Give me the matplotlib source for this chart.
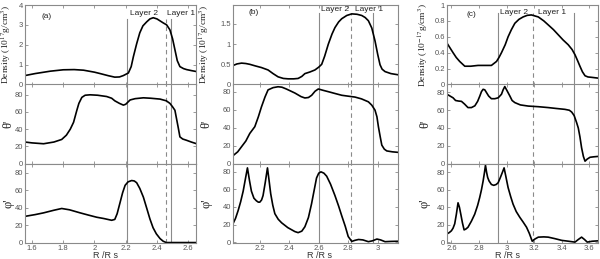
import numpy as np
import matplotlib
matplotlib.use("Agg")
import matplotlib.pyplot as plt
import matplotlib.transforms as mtransforms

plt.rcParams['mathtext.fontset'] = 'stix'
plt.rcParams['font.family'] = ['Liberation Sans', 'DejaVu Sans']

# ---- panel (a) ----
xa_den = [1.555, 1.62, 1.717, 1.80, 1.87, 1.93, 2.0, 2.036, 2.09, 2.13, 2.16, 2.185, 2.217, 2.235,
          2.249, 2.27, 2.29, 2.31, 2.334, 2.355, 2.376, 2.40, 2.42, 2.44, 2.462, 2.483, 2.50, 2.515,
          2.53, 2.547, 2.57, 2.59, 2.62, 2.654]
den_a = [0.45, 0.55, 0.67, 0.74, 0.75, 0.72, 0.62, 0.55, 0.44, 0.37, 0.38, 0.45, 0.58, 0.9,
         1.4, 2.05, 2.6, 2.95, 3.15, 3.3, 3.36, 3.3, 3.2, 3.1, 3.0, 2.75, 2.3, 1.75,
         1.2, 0.9, 0.8, 0.75, 0.7, 0.65]
xa_th = [1.555, 1.60, 1.674, 1.74, 1.79, 1.82, 1.845, 1.866, 1.887, 1.90, 1.919, 1.94, 1.972, 2.02,
         2.078, 2.11, 2.13, 2.16, 2.185, 2.20, 2.228, 2.26, 2.313, 2.36, 2.42, 2.46, 2.483, 2.50,
         2.515, 2.536, 2.547, 2.565, 2.59, 2.62, 2.654]
th_a = [25, 24, 23, 25, 28, 33, 40, 48, 62, 70, 77, 79.5, 80, 79.5,
        78, 76, 73, 70, 68, 69, 74, 75.5, 76.5, 76, 75, 73, 70, 66,
        62, 42, 31, 28.5, 27, 25, 23]
xa_ph = [1.555, 1.62, 1.674, 1.74, 1.79, 1.84, 1.908, 1.96, 2.014, 2.06, 2.11, 2.13, 2.145, 2.164,
         2.18, 2.196, 2.215, 2.238, 2.255, 2.27, 2.29, 2.313, 2.335, 2.355, 2.375, 2.396, 2.42,
         2.44, 2.46, 2.50, 2.55, 2.60, 2.654]
ph_a = [30, 32, 34, 37, 39, 37.5, 34, 31.5, 29, 27.5, 25.5, 26.5, 33, 46,
        57, 65.5, 69.5, 71, 70.5, 68.5, 62, 52, 39, 27, 17, 10, 4.5,
        1.5, 0, 0, 0, 0, 0]

# ---- panel (b) ----
xb_den = [2.018, 2.045, 2.076, 2.105, 2.132, 2.17, 2.211, 2.256, 2.29, 2.324, 2.36, 2.393, 2.43,
          2.46, 2.485, 2.506, 2.54, 2.574, 2.60, 2.62, 2.64, 2.665, 2.69, 2.71, 2.735, 2.756,
          2.79, 2.824, 2.86, 2.892, 2.915, 2.937, 2.96, 2.982, 3.0, 3.016, 3.03, 3.05, 3.09, 3.14]
den_b = [0.47, 0.51, 0.53, 0.52, 0.5, 0.46, 0.42, 0.36, 0.27, 0.19, 0.15, 0.14, 0.14,
         0.15, 0.2, 0.27, 0.31, 0.36, 0.43, 0.5, 0.7, 1.0, 1.25, 1.41, 1.55, 1.63,
         1.71, 1.75, 1.74, 1.71, 1.66, 1.58, 1.4, 1.08, 0.75, 0.49, 0.38, 0.32, 0.27, 0.24]
xb_th = [2.018, 2.05, 2.076, 2.105, 2.132, 2.166, 2.19, 2.211, 2.235, 2.256, 2.29, 2.324, 2.35,
         2.38, 2.438, 2.48, 2.506, 2.53, 2.552, 2.575, 2.597, 2.63, 2.665, 2.71, 2.756, 2.80,
         2.846, 2.89, 2.937, 2.96, 2.982, 2.995, 3.005, 3.017, 3.028, 3.045, 3.062, 3.10, 3.14]
th_b = [8.7, 13, 18.7, 25, 33.5, 41, 52, 63, 74, 82, 84.5, 85.5, 85,
        83, 78.5, 74.5, 73, 73.5, 76, 80.5, 83, 81.5, 80, 78, 76, 75,
        74, 72, 68.7, 65, 59.4, 52, 41, 30, 20.5, 16, 14, 13, 12.4]
xb_ph = [2.018, 2.035, 2.053, 2.07, 2.087, 2.10, 2.116, 2.13, 2.143, 2.16, 2.177, 2.19, 2.2,
         2.212, 2.222, 2.237, 2.252, 2.263, 2.274, 2.288, 2.302, 2.325, 2.348, 2.39, 2.438,
         2.46, 2.485, 2.506, 2.53, 2.551, 2.57, 2.585, 2.60, 2.615, 2.635, 2.654, 2.68, 2.71,
         2.735, 2.756, 2.78, 2.80, 2.824, 2.845, 2.87, 2.90, 2.937, 2.965, 2.995, 3.02, 3.05,
         3.09, 3.14]
ph_b = [21, 27, 36, 46, 58, 70, 84.5, 70, 58, 50, 47, 45.5, 45.5,
        48, 53, 68, 84.5, 70, 55, 42, 32.4, 26, 22, 16.5, 12,
        10.8, 12.5, 17.5, 28, 43.5, 60, 73, 78.5, 80, 78.5, 75, 66, 53,
        41, 30, 18, 6.4, 0.8, 2, 3, 2.5, 0.5, 1.5, 3.5, 2.5, 0.5,
        0.8, 1]

# ---- panel (c) ----
xc_den = [2.568, 2.59, 2.612, 2.635, 2.66, 2.697, 2.74, 2.793, 2.84, 2.89, 2.927, 2.945, 2.963,
          2.99, 3.011, 3.035, 3.06, 3.09, 3.12, 3.15, 3.18, 3.23, 3.27, 3.302, 3.34, 3.375,
          3.41, 3.447, 3.475, 3.496, 3.515, 3.532, 3.55, 3.569, 3.59, 3.617, 3.665]
den_c = [0.52, 0.46, 0.40, 0.34, 0.29, 0.23, 0.23, 0.24, 0.24, 0.24, 0.29, 0.34, 0.4,
         0.5, 0.6, 0.69, 0.77, 0.82, 0.85, 0.87, 0.875, 0.85, 0.80, 0.75, 0.69, 0.625,
         0.56, 0.5, 0.44, 0.375, 0.3, 0.23, 0.16, 0.11, 0.095, 0.09, 0.08]
xc_th = [2.568, 2.59, 2.612, 2.63, 2.65, 2.673, 2.695, 2.72, 2.745, 2.77, 2.79, 2.806, 2.818,
         2.83, 2.842, 2.854, 2.87, 2.89, 2.915, 2.939, 2.963, 2.975, 2.987, 3.0, 3.024, 3.04,
         3.06, 3.1, 3.157, 3.23, 3.302, 3.36, 3.423, 3.455, 3.472, 3.49, 3.508, 3.52, 3.532,
         3.544, 3.557, 3.569, 3.585, 3.605, 3.63, 3.665]
th_c = [78, 76, 74, 71, 70.4, 70, 67, 63, 63, 65, 70, 76, 81,
        83.6, 83, 80, 76, 73, 73, 74, 78, 83, 86.7, 83, 76, 71,
        68.6, 66, 64.7, 64, 63, 62, 61, 60, 58, 54, 46, 40, 30,
        17.7, 8, 2.6, 5, 7, 7.5, 8]
xc_ph = [2.568, 2.585, 2.6, 2.612, 2.624, 2.636, 2.648, 2.658, 2.668, 2.68, 2.692, 2.705, 2.72,
         2.745, 2.769, 2.79, 2.805, 2.818, 2.83, 2.84, 2.847, 2.855, 2.863, 2.873, 2.89, 2.907,
         2.925, 2.939, 2.955, 2.97, 2.982, 2.995, 3.011, 3.03, 3.047, 3.07, 3.096, 3.12, 3.145,
         3.165, 3.186, 3.205, 3.23, 3.27, 3.302, 3.35, 3.4, 3.45, 3.496, 3.52, 3.544, 3.565,
         3.585, 3.62, 3.665]
ph_c = [9.4, 11, 13, 16, 21, 32, 45, 40, 32, 22, 14, 15, 17,
        24, 32, 42, 51, 60, 70, 80, 88, 80, 74, 70, 66, 65,
        66, 68, 74, 80, 85, 75, 62.5, 52, 43.5, 35, 28.4, 23, 17,
        10, 1, 3.5, 5.7, 6, 5.7, 4, 2, 1, 0, 3, 5.7, 3,
        0, 1, 1.5]

columns = [
    dict(tag='(a)', left=25, right=196, xlim=(1.555, 2.65),
         xticks=[1.6, 1.8, 2.0, 2.2, 2.4, 2.6], xlabels=['1.6', '1.8', '2', '2.2', '2.4', '2.6'],
         den=(xa_den, den_a), th=(xa_th, th_a), ph=(xa_ph, ph_a),
         dlim=(0, 4), dticks=[0, 1, 2, 3, 4], dlabels=['0', '1', '2', '3', '4'],
         thlim=(0, 92), phlim=(-0.5, 90.5), expo='17',
         layers=(2.21, 2.455, 2.492), vtop=0.83,
         l2=2.315, l1=2.553, ltxt_y=0.89, tag_x=0.127, tag_y=0.86,
         ylab_x=-0.062, xlab_x=0.468),
    dict(tag='(b)', left=233, right=398, xlim=(2.018, 3.138),
         xticks=[2.2, 2.4, 2.6, 2.8, 3.0], xlabels=['2.2', '2.4', '2.6', '2.8', '3'],
         den=(xb_den, den_b), th=(xb_th, th_b), ph=(xb_ph, ph_b),
         dlim=(0, 1.97), dticks=[0, 0.5, 1, 1.5], dlabels=['0', '0.5', '1', '1.5'],
         thlim=(0, 88), phlim=(-1, 89.5), expo='17',
         layers=(2.605, 2.82, 2.97), vtop=0.895,
         l2=2.707, l1=2.941, ltxt_y=0.945, tag_x=0.127, tag_y=0.91,
         ylab_x=-0.127, xlab_x=0.527),
    dict(tag='(c)', left=447, right=598, xlim=(2.568, 3.663),
         xticks=[2.6, 2.8, 3.0, 3.2, 3.4, 3.6], xlabels=['2.6', '2.8', '3', '3.2', '3.4', '3.6'],
         den=(xc_den, den_c), th=(xc_th, th_c), ph=(xc_ph, ph_c),
         dlim=(0, 1.0), dticks=[0, 0.2, 0.4, 0.6, 0.8, 1.0], dlabels=['0', '0.2', '0.4', '0.6', '0.8', '1'],
         thlim=(0, 89), phlim=(-1, 90), expo='-17',
         layers=(2.94, 3.19, 3.49), vtop=0.905,
         l2=3.056, l1=3.327, ltxt_y=0.9, tag_x=0.16, tag_y=0.88,
         ylab_x=-0.106, xlab_x=0.40),
]

W, H = 600, 259
rows = [(5, 84.5), (84.5, 163.5), (163.5, 243)]
grey = '#8a8a8a'
tickc = '#555555'

fig = plt.figure(figsize=(6, 2.59), dpi=100)


def style(ax, col, yticks, ylabels, bottom):
    for s in ax.spines.values():
        s.set_color(grey)
        s.set_linewidth(0.8)
    ax.set_xlim(*col['xlim'])
    ax.set_xticks(col['xticks'])
    ax.set_yticks(yticks)
    ax.set_yticklabels(ylabels)
    ax.tick_params(direction='in', length=2, width=0.6, color=grey, labelsize=5.5,
                   labelcolor=tickc, pad=1.5, top=True, right=True)
    if bottom:
        ax.set_xticklabels(col['xlabels'])
    else:
        ax.tick_params(labelbottom=False)


for col in columns:
    x0 = col['left'] / W
    w = (col['right'] - col['left']) / W
    axes = []
    for (t, b) in rows:
        axes.append(fig.add_axes([x0, 1 - b / H, w, (b - t) / H]))
    ax_d, ax_t, ax_p = axes

    ax_d.plot(*col['den'], color='black', lw=1.2)
    ax_d.set_ylim(*col['dlim'])
    style(ax_d, col, col['dticks'], col['dlabels'], False)
    ax_d.set_ylabel('Density (10$^{' + col['expo'] + '}$g/cm$^3$)', family='Liberation Serif',
                    fontsize=6.8, color='#222222')

    ax_t.plot(*col['th'], color='black', lw=1.2)
    ax_t.set_ylim(*col['thlim'])
    style(ax_t, col, [0, 20, 40, 60, 80], ['0', '20', '40', '60', '80'], False)
    ax_t.set_ylabel("θ'", family='Liberation Serif', fontsize=9, color='#222222')

    ax_p.plot(*col['ph'], color='black', lw=1.2)
    ax_p.set_ylim(*col['phlim'])
    style(ax_p, col, [0, 20, 40, 60, 80], ['0', '20', '40', '60', '80'], True)
    ax_p.set_ylabel("φ'", family='Liberation Serif', fontsize=9, color='#222222')
    ax_p.set_xlabel('R /R s', fontsize=6.5, color='#333333')
    ax_p.xaxis.set_label_coords(col['xlab_x'], -0.105)

    for ax in axes:
        ax.yaxis.set_label_coords(col['ylab_x'], 0.5)

    # layer boundaries
    s1, dsh, s2 = col['layers']
    for i, ax in enumerate(axes):
        top = col['vtop'] if i == 0 else 1.0
        ax.axvline(s1, ymax=top, color=grey, lw=0.8, zorder=0)
        ax.axvline(dsh, ymax=top, color=grey, lw=0.8, ls=(0, (4, 3)), zorder=0)
        ax.axvline(s2, ymax=top, color=grey, lw=0.8, zorder=0)

    trans = mtransforms.blended_transform_factory(ax_d.transData, ax_d.transAxes)
    ax_d.text(col['l2'], col['ltxt_y'], 'Layer 2', transform=trans, ha='center', va='center',
              fontsize=6, color='#222222')
    ax_d.text(col['l1'], col['ltxt_y'], 'Layer 1', transform=trans, ha='center', va='center',
              fontsize=6, color='#222222')
    ax_d.text(col['tag_x'], col['tag_y'], col['tag'], transform=ax_d.transAxes, ha='center',
              va='center', fontsize=6, color='#222222')

fig.savefig('out.png', dpi=100)
